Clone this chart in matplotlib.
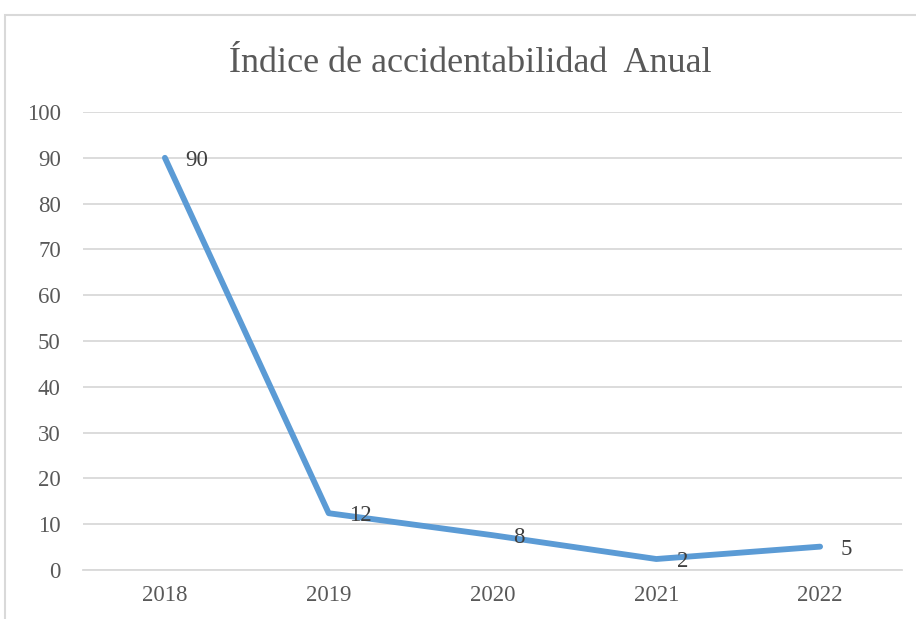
import matplotlib.pyplot as plt
from matplotlib.patches import Rectangle

# Data
years = ['2018', '2019', '2020', '2021', '2022']
indice = [90, 12.4, 7.6, 2.4, 5.1]
labels = ['90', '12', '8', '2', '5']

plt.rcParams['font.family'] = ['Liberation Serif', 'DejaVu Serif']

fig = plt.figure(figsize=(9.16, 6.19), dpi=100)
ax = fig.add_axes([83 / 916, 49 / 619, 819 / 916, 458 / 619])

x = list(range(len(years)))
ax.plot(x, indice, color='#5B9BD5', linewidth=4.2, solid_capstyle='round',
        solid_joinstyle='round', zorder=3)

for xi, yi, lab in zip(x, indice, labels):
    ax.annotate(lab, (xi, yi), xytext=(15, -2), textcoords='offset points',
                ha='left', va='center', fontsize=16.5, color='#404040', zorder=4)

ax.set_xlim(-0.5, len(years) - 0.5)
ax.set_ylim(0, 100)
ax.set_yticks(range(0, 101, 10))
ax.set_xticks(x)
ax.set_xticklabels(years)
ax.grid(axis='y', color='#D9D9D9', linewidth=1.3)
ax.set_axisbelow(True)
for s in ['top', 'right', 'left']:
    ax.spines[s].set_visible(False)
ax.spines['bottom'].set_color('#D9D9D9')
ax.spines['bottom'].set_linewidth(1.3)
ax.tick_params(length=0, labelsize=16.5, colors='#595959')
ax.tick_params(axis='x', pad=11)
ax.tick_params(axis='y', pad=16)

fig.text(470 / 916, 1 - 72 / 619, 'Índice de accidentabilidad  Anual', ha='center',
         va='baseline', fontsize=26, color='#595959')

# chart area border
fig.patches.append(Rectangle((5 / 916, -0.05), 1.1, 1 - 15 / 619 + 0.05,
                             transform=fig.transFigure, fill=False,
                             edgecolor='#D9D9D9', linewidth=1.5))

fig.savefig('out.png', dpi=100)
